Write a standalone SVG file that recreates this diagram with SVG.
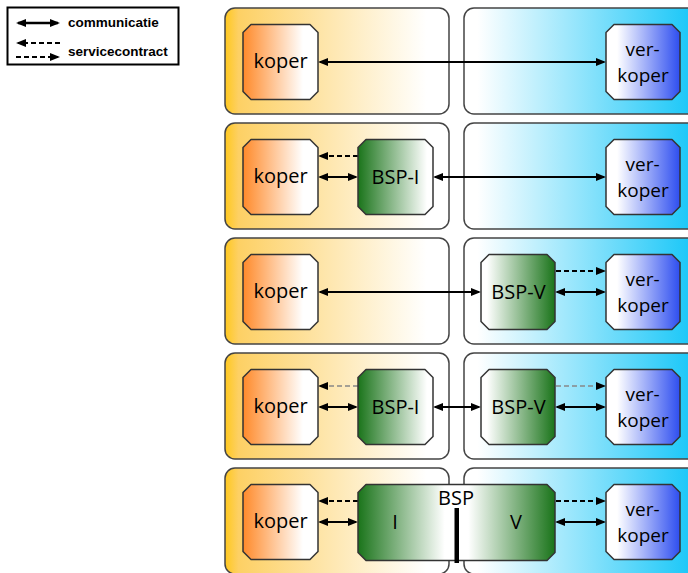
<svg xmlns="http://www.w3.org/2000/svg" width="688" height="573" viewBox="0 0 688 573">
<defs>
<style>
.panel{stroke:#444;stroke-width:1.5}
.lp{fill:url(#gLeft)}
.rp{fill:url(#gRight)}
.node{stroke:#333;stroke-width:1.5;stroke-linejoin:round}
.lbl{font-family:"Open Sans","DejaVu Sans",sans-serif;font-size:20px;fill:#000;text-anchor:middle}
.vk{font-size:19px}
.leg{font-family:"Liberation Sans",Arial,sans-serif;font-size:13.5px;font-weight:bold;fill:#000}
.com{stroke:#000;stroke-width:2;fill:none;marker-start:url(#ah);marker-end:url(#ah)}
.svc{stroke:#000;stroke-width:2;fill:none;stroke-dasharray:5,3;marker-end:url(#ah)}
.svcl{stroke:#888;stroke-width:1.3;fill:none;stroke-dasharray:5,3;marker-end:url(#ah)}
</style>
<marker id="ah" viewBox="0 0 10 8" refX="8" refY="4" markerWidth="10" markerHeight="8" markerUnits="userSpaceOnUse" orient="auto-start-reverse">
<path d="M0,0 L10,4 L0,8 Z" fill="#000"/>
</marker>
<linearGradient id="gLeft" gradientUnits="userSpaceOnUse" x1="225" y1="0" x2="449" y2="0">
<stop offset="0" stop-color="#FFC81E"/>
<stop offset="0.06" stop-color="#FDD064"/>
<stop offset="0.9" stop-color="#FFFFFF"/>
</linearGradient>
<linearGradient id="gRight" gradientUnits="userSpaceOnUse" x1="464" y1="0" x2="688" y2="0">
<stop offset="0.06" stop-color="#FFFFFF"/>
<stop offset="1" stop-color="#1EC8F8"/>
</linearGradient>
<linearGradient id="gKoper" x1="0" y1="0" x2="1" y2="0">
<stop offset="0" stop-color="#FF8A2A"/>
<stop offset="0.8" stop-color="#FFFFFF"/>
</linearGradient>
<linearGradient id="gVerk" x1="0" y1="0" x2="1" y2="0">
<stop offset="0.15" stop-color="#FFFFFF"/>
<stop offset="1" stop-color="#2E4EF0"/>
</linearGradient>
<linearGradient id="gBspI" x1="0" y1="0" x2="1" y2="0">
<stop offset="0" stop-color="#1A741A"/>
<stop offset="0.92" stop-color="#FFFFFF"/>
</linearGradient>
<linearGradient id="gBspV" x1="0" y1="0" x2="1" y2="0">
<stop offset="0.08" stop-color="#FFFFFF"/>
<stop offset="1" stop-color="#1A741A"/>
</linearGradient>
<linearGradient id="gBsp" x1="0" y1="0" x2="1" y2="0">
<stop offset="0" stop-color="#1A741A"/>
<stop offset="0.44" stop-color="#FFFFFF"/>
<stop offset="0.56" stop-color="#FFFFFF"/>
<stop offset="1" stop-color="#1A741A"/>
</linearGradient>
</defs>

<rect width="688" height="573" fill="#FFFFFF"/>

<g id="legend">
<rect x="7.5" y="7.5" width="171" height="57" fill="#FFFFFF" stroke="#000" stroke-width="2"/>
<line class="com" x1="18" y1="23" x2="58" y2="23" style="stroke-width:2.5"/>
<text class="leg" x="68" y="27">communicatie</text>
<line class="svc" x1="60" y1="43" x2="18" y2="43"/>
<line class="svc" x1="16" y1="57" x2="58" y2="57"/>
<text class="leg" x="68" y="56">servicecontract</text>
</g>

<g id="panels">
<rect id="panel-l1" class="panel lp" x="225" y="8" width="224" height="106" rx="10"/>
<rect id="panel-r1" class="panel rp" x="464" y="8" width="240" height="106" rx="10"/>
<rect id="panel-l2" class="panel lp" x="225" y="123" width="224" height="106" rx="10"/>
<rect id="panel-r2" class="panel rp" x="464" y="123" width="240" height="106" rx="10"/>
<rect id="panel-l3" class="panel lp" x="225" y="238" width="224" height="106" rx="10"/>
<rect id="panel-r3" class="panel rp" x="464" y="238" width="240" height="106" rx="10"/>
<rect id="panel-l4" class="panel lp" x="225" y="353" width="224" height="106" rx="10"/>
<rect id="panel-r4" class="panel rp" x="464" y="353" width="240" height="106" rx="10"/>
<rect id="panel-l5" class="panel lp" x="225" y="468" width="224" height="106" rx="10"/>
<rect id="panel-r5" class="panel rp" x="464" y="468" width="240" height="106" rx="10"/>
</g>

<g id="connectors">
<line class="com" x1="320" y1="62" x2="604" y2="62"/>
<line class="svc" x1="358" y1="156" x2="320" y2="156"/>
<line class="com" x1="320" y1="177" x2="356" y2="177"/>
<line class="com" x1="435" y1="177" x2="604" y2="177"/>
<line class="svc" x1="556" y1="271" x2="604" y2="271"/>
<line class="com" x1="320" y1="292" x2="479" y2="292"/>
<line class="com" x1="557" y1="292" x2="604" y2="292"/>
<line class="svcl" x1="358" y1="386" x2="320" y2="386"/>
<line class="svcl" x1="556" y1="386" x2="604" y2="386"/>
<line class="com" x1="320" y1="407" x2="356" y2="407"/>
<line class="com" x1="435" y1="407" x2="479" y2="407"/>
<line class="com" x1="557" y1="407" x2="604" y2="407"/>
<line class="svc" x1="358" y1="501" x2="320" y2="501"/>
<line class="svc" x1="556" y1="501" x2="604" y2="501"/>
<line class="com" x1="320" y1="522" x2="356" y2="522"/>
<line class="com" x1="557" y1="522" x2="604" y2="522"/>
</g>

<g id="koper1">
<path class="node" fill="url(#gKoper)" d="M251,24.5 H310 L318,32.5 V91.5 L310,99.5 H251 L243,91.5 V32.5 Z"/>
<text class="lbl" x="280.5" y="68">koper</text>
</g>
<g id="verkoper1">
<path class="node" fill="url(#gVerk)" d="M614,24.5 H672 L680,32.5 V91.5 L672,99.5 H614 L606,91.5 V32.5 Z"/>
<text class="lbl vk" x="642.5" y="56">ver-</text>
<text class="lbl vk" x="643" y="82">koper</text>
</g>

<g id="koper2">
<path class="node" fill="url(#gKoper)" d="M251,139.5 H310 L318,147.5 V206.5 L310,214.5 H251 L243,206.5 V147.5 Z"/>
<text class="lbl" x="280.5" y="183">koper</text>
</g>
<g id="bspi2">
<path class="node" fill="url(#gBspI)" d="M366,139.5 H425 L433,147.5 V206.5 L425,214.5 H366 L358,206.5 V147.5 Z"/>
<text class="lbl" x="395.5" y="183.5">BSP-I</text>
</g>
<g id="verkoper2">
<path class="node" fill="url(#gVerk)" d="M614,139.5 H672 L680,147.5 V206.5 L672,214.5 H614 L606,206.5 V147.5 Z"/>
<text class="lbl vk" x="642.5" y="171">ver-</text>
<text class="lbl vk" x="643" y="197">koper</text>
</g>

<g id="koper3">
<path class="node" fill="url(#gKoper)" d="M251,254.5 H310 L318,262.5 V321.5 L310,329.5 H251 L243,321.5 V262.5 Z"/>
<text class="lbl" x="280.5" y="298">koper</text>
</g>
<g id="bspv3">
<path class="node" fill="url(#gBspV)" d="M489,254.5 H547 L555,262.5 V321.5 L547,329.5 H489 L481,321.5 V262.5 Z"/>
<text class="lbl" x="518.5" y="298.5">BSP-V</text>
</g>
<g id="verkoper3">
<path class="node" fill="url(#gVerk)" d="M614,254.5 H672 L680,262.5 V321.5 L672,329.5 H614 L606,321.5 V262.5 Z"/>
<text class="lbl vk" x="642.5" y="286">ver-</text>
<text class="lbl vk" x="643" y="312">koper</text>
</g>

<g id="koper4">
<path class="node" fill="url(#gKoper)" d="M251,369.5 H310 L318,377.5 V436.5 L310,444.5 H251 L243,436.5 V377.5 Z"/>
<text class="lbl" x="280.5" y="413">koper</text>
</g>
<g id="bspi4">
<path class="node" fill="url(#gBspI)" d="M366,369.5 H425 L433,377.5 V436.5 L425,444.5 H366 L358,436.5 V377.5 Z"/>
<text class="lbl" x="395.5" y="413.5">BSP-I</text>
</g>
<g id="bspv4">
<path class="node" fill="url(#gBspV)" d="M489,369.5 H547 L555,377.5 V436.5 L547,444.5 H489 L481,436.5 V377.5 Z"/>
<text class="lbl" x="518.5" y="413.5">BSP-V</text>
</g>
<g id="verkoper4">
<path class="node" fill="url(#gVerk)" d="M614,369.5 H672 L680,377.5 V436.5 L672,444.5 H614 L606,436.5 V377.5 Z"/>
<text class="lbl vk" x="642.5" y="401">ver-</text>
<text class="lbl vk" x="643" y="427">koper</text>
</g>

<g id="koper5">
<path class="node" fill="url(#gKoper)" d="M251,484.5 H310 L318,492.5 V551.5 L310,559.5 H251 L243,551.5 V492.5 Z"/>
<text class="lbl" x="280.5" y="528">koper</text>
</g>
<g id="bsp5">
<path class="node" fill="url(#gBsp)" d="M366,484.5 H547 L555,492.5 V552.5 L547,560.5 H366 L358,552.5 V492.5 Z"/>
<text class="lbl" x="456" y="505">BSP</text>
<text class="lbl" x="395" y="529">I</text>
<text class="lbl" x="516" y="529">V</text>
<rect x="454.5" y="508" width="4.5" height="55" fill="#000"/>
</g>
<g id="verkoper5">
<path class="node" fill="url(#gVerk)" d="M614,484.5 H672 L680,492.5 V551.5 L672,559.5 H614 L606,551.5 V492.5 Z"/>
<text class="lbl vk" x="642.5" y="516">ver-</text>
<text class="lbl vk" x="643" y="542">koper</text>
</g>
</svg>
